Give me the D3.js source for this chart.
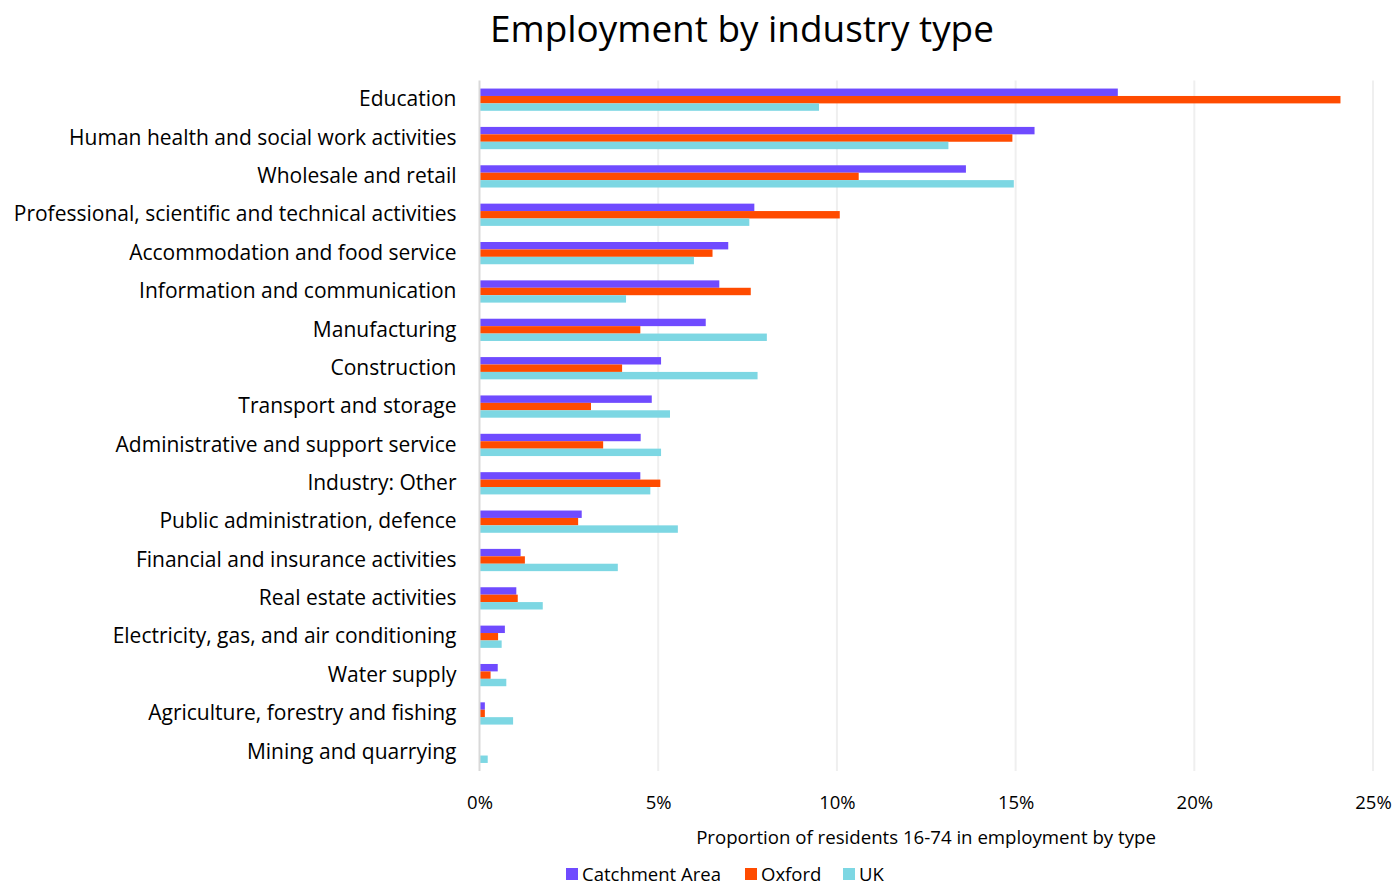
<!DOCTYPE html>
<html>
<head>
<meta charset="utf-8">
<script src="https://cdn.jsdelivr.net/npm/d3@7"></script>
<style>
  html, body { margin: 0; padding: 0; background: #fff; }
  svg { display: block; }
  text { font-family: "Open Sans", "Noto Sans", sans-serif; fill: #000; }
</style>
</head>
<body>
<svg id="chart" width="1395" height="886"></svg>
<script>
// Industry categories, top to bottom
const categories = [
  "Education",
  "Human health and social work activities",
  "Wholesale and retail",
  "Professional, scientific and technical activities",
  "Accommodation and food service",
  "Information and communication",
  "Manufacturing",
  "Construction",
  "Transport and storage",
  "Administrative and support service",
  "Industry: Other",
  "Public administration, defence",
  "Financial and insurance activities",
  "Real estate activities",
  "Electricity, gas, and air conditioning",
  "Water supply",
  "Agriculture, forestry and fishing",
  "Mining and quarrying"
];

// Share of residents aged 16-74 in employment, percent
const catchmentArea = [17.86, 15.53, 13.61, 7.69, 6.96, 6.71, 6.33, 5.08, 4.82, 4.51, 4.50, 2.86, 1.15, 1.03, 0.71, 0.51, 0.15, 0.0];
const oxford        = [24.09, 14.91, 10.61, 10.08, 6.52, 7.59, 4.50, 3.99, 3.12, 3.46, 5.06, 2.76, 1.27, 1.07, 0.52, 0.31, 0.15, 0.0];
const uk            = [9.50, 13.12, 14.95, 7.55, 6.00, 4.10, 8.04, 7.78, 5.33, 5.08, 4.78, 5.55, 3.87, 1.77, 0.62, 0.75, 0.94, 0.23];

const seriesNames = ["Catchment Area", "Oxford", "UK"];
const seriesColors = ["#6F4BFF", "#FF4B00", "#7DD7E3"];
const xTicks = [0, 5, 10, 15, 20, 25];

const svg = d3.select("#chart");
const plot = { left: 479.5, right: 1373, top: 80.5, bottom: 771 };

// Scale text so its rendered width fits a target width
function fitWidth(sel, target) {
  const fs = parseFloat(sel.attr("font-size"));
  const w = sel.node().getComputedTextLength();
  sel.attr("font-size", fs * target / w);
}

const x = d3.scaleLinear().domain([0, 25]).range([plot.left, plot.right]);
const y = d3.scaleBand().domain(categories).range([plot.top, plot.bottom]).padding(0);
const groupShare = 0.58;
const inner = d3.scaleBand().domain(seriesNames)
  .range([0, y.bandwidth() * groupShare]).padding(0);
const groupOffset = (y.bandwidth() - y.bandwidth() * groupShare) / 2;

// Title
const title = svg.append("text")
  .attr("x", 742).attr("y", 42)
  .attr("text-anchor", "middle")
  .attr("font-size", 36)
  .text("Employment by industry type");
fitWidth(title, 504);

// Vertical gridlines
svg.append("g")
  .selectAll("line")
  .data(xTicks.slice(1))
  .join("line")
  .attr("x1", d => x(d)).attr("x2", d => x(d))
  .attr("y1", plot.top).attr("y2", plot.bottom)
  .attr("stroke", "#efefef")
  .attr("stroke-width", 2);

// Bars
const series = [catchmentArea, oxford, uk];
series.forEach((vals, si) => {
  svg.append("g")
    .selectAll("rect")
    .data(vals.map((v, i) => ({ cat: categories[i], v })))
    .join("rect")
    .attr("x", x(0))
    .attr("y", d => y(d.cat) + groupOffset + inner(seriesNames[si]))
    .attr("width", d => x(d.v) - x(0))
    .attr("height", inner.bandwidth())
    .attr("fill", seriesColors[si]);
});

// Zero axis line
svg.append("line")
  .attr("x1", x(0)).attr("x2", x(0))
  .attr("y1", plot.top).attr("y2", plot.bottom)
  .attr("stroke", "#d9d9d9")
  .attr("stroke-width", 2);

// Category labels
const yAxis = svg.append("g")
  .attr("transform", `translate(${plot.left - 23},0)`)
  .call(d3.axisLeft(y).tickSize(0).tickPadding(0));
yAxis.select(".domain").remove();
yAxis.attr("font-family", null).attr("font-size", null);
yAxis.selectAll("text")
  .attr("font-size", 20)
  .attr("dy", "0.32em");
{
  let maxW = 0;
  yAxis.selectAll("text").each(function () { maxW = Math.max(maxW, this.getComputedTextLength()); });
  const fs = 20 * 443 / maxW;
  yAxis.selectAll("text").attr("font-size", fs);
}

// X axis tick labels
const xAxis = svg.append("g")
  .attr("transform", `translate(0,${plot.bottom})`)
  .call(d3.axisBottom(x).tickValues(xTicks).tickFormat(d => d + "%").tickSize(0).tickPadding(0));
xAxis.select(".domain").remove();
xAxis.attr("font-family", null).attr("font-size", null);
xAxis.selectAll("text").attr("font-size", 18.5).attr("dy", null).attr("y", 38);

// X axis title
const xTitle = svg.append("text")
  .attr("x", 926).attr("y", 844)
  .attr("text-anchor", "middle")
  .attr("font-size", 18)
  .text("Proportion of residents 16-74 in employment by type");
fitWidth(xTitle, 460);

// Legend
const legendX = [566, 745, 843];
const legend = svg.append("g");
seriesNames.forEach((name, i) => {
  legend.append("rect")
    .attr("x", legendX[i]).attr("y", 868)
    .attr("width", 12).attr("height", 12)
    .attr("fill", seriesColors[i]);
  legend.append("text")
    .attr("x", legendX[i] + 16).attr("y", 881)
    .attr("font-size", 18.5)
    .text(name);
});
</script>
</body>
</html>
